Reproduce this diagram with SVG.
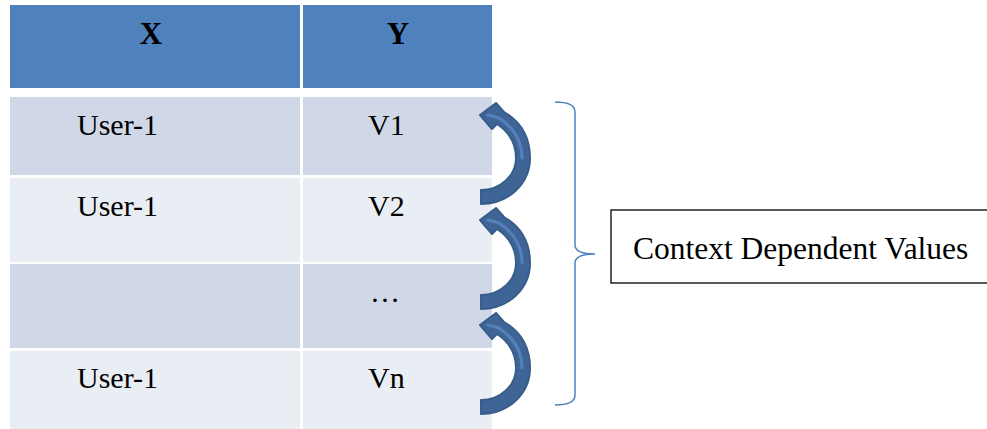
<svg xmlns="http://www.w3.org/2000/svg" width="987" height="429" viewBox="0 0 987 429">
<defs>
<style>
.hd{fill:#4F81BD}
.r1{fill:#D0D8E8}
.r2{fill:#E9EDF4}
.t{font-family:"Liberation Serif","Times New Roman",serif;font-size:30px;fill:#000}
.tb{font-family:"Liberation Serif","Times New Roman",serif;font-size:31px;font-weight:bold;fill:#000}
.arr{fill:#3F6597;stroke:#385D8A;stroke-width:2;stroke-linejoin:round}
.hl{fill:none;stroke:#5B88C4;stroke-width:3;stroke-linecap:round;opacity:0.8}
</style>
<g id="carrow">
<path class="arr" d="M481,204 C508,204 530,184 530,158 C530,138 521,122 504,112 L496,103 L480,115 L492,129 L497,124 C509,132 516,144 516,158 C516,176 500,190 481,190 Z"/>
<path class="hl" d="M488,115 L499,118 C514,128 522,142 522,158"/>
</g>
</defs>
<rect width="987" height="429" fill="#fff"/>
<g id="table">
<g id="header">
<rect class="hd" x="10" y="5" width="290" height="83"/>
<rect class="hd" x="303" y="5" width="189" height="83"/>
<text class="tb" x="151" y="44" text-anchor="middle">X</text>
<text class="tb" x="398" y="44" text-anchor="middle">Y</text>
</g>
<g id="row1">
<rect class="r1" x="10" y="97" width="290" height="78"/>
<rect class="r1" x="303" y="97" width="189" height="78"/>
<text class="t" x="77" y="135">User-1</text>
<text class="t" x="368" y="135">V1</text>
</g>
<g id="row2">
<rect class="r2" x="10" y="178" width="290" height="84"/>
<rect class="r2" x="303" y="178" width="189" height="84"/>
<text class="t" x="77" y="216">User-1</text>
<text class="t" x="368" y="216">V2</text>
</g>
<g id="row3">
<rect class="r1" x="10" y="264" width="290" height="84"/>
<rect class="r1" x="303" y="264" width="189" height="84"/>
<text class="t" x="370" y="302">…</text>
</g>
<g id="row4">
<rect class="r2" x="10" y="351" width="290" height="78"/>
<rect class="r2" x="303" y="351" width="189" height="78"/>
<text class="t" x="77" y="388">User-1</text>
<text class="t" x="368" y="388">Vn</text>
</g>
</g>
<g id="connectors">
<use href="#carrow"/>
<use href="#carrow" transform="translate(0,105)"/>
<use href="#carrow" transform="translate(0,210)"/>
<path d="M555,102 Q575,102 575,112 L575,245 Q575,254 595,254 Q575,254 575,263 L575,395 Q575,405 555,405" fill="none" stroke="#4F81BD" stroke-width="1.5"/>
</g>
<g id="context">
<rect x="611" y="210" width="390" height="73" fill="#fff" stroke="#000" stroke-width="1.3"/>
<text class="t" x="633" y="259" style="font-size:31.5px">Context Dependent Values</text>
</g>
</svg>
